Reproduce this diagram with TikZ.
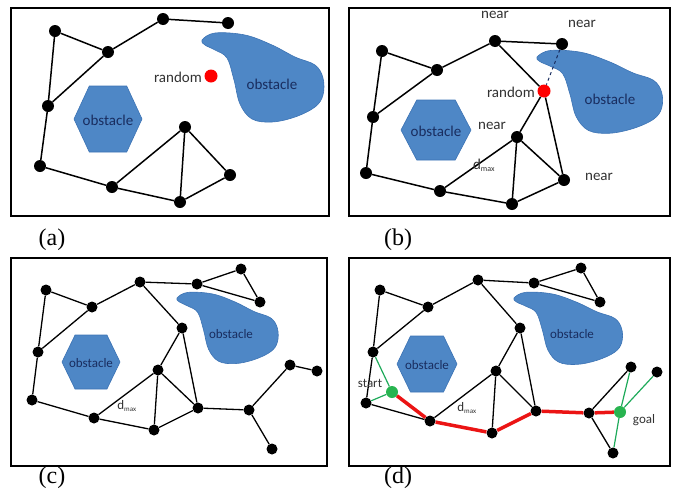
\documentclass[tikz,border=0pt]{standalone}
\usepackage{fontspec}
\setmainfont{Carlito}
\newfontfamily\capfont{Liberation Serif}
\definecolor{obstblue}{RGB}{78,135,198}
\definecolor{obstedge}{RGB}{60,115,180}
\definecolor{obsttxt}{RGB}{25,45,95}
\definecolor{lbltxt}{RGB}{50,50,50}
\definecolor{pathred}{RGB}{235,20,20}
\definecolor{gnode}{RGB}{40,180,80}
\definecolor{gline}{RGB}{30,170,90}
\begin{document}
\begin{tikzpicture}[x=1pt,y=-1pt,
  frame/.style={draw=black,line width=1.6pt},
  dotA/.style={circle,fill=black,inner sep=0pt,minimum size=12pt},
  dotC/.style={circle,fill=black,inner sep=0pt,minimum size=11pt},
  rnd/.style={circle,fill=red,inner sep=0pt,minimum size=13pt},
  gdot/.style={circle,fill=gnode,inner sep=0pt,minimum size=12pt},
  edge/.style={line width=1.5pt},
  edgeC/.style={line width=1.3pt},
  redp/.style={line width=3.5pt,draw=pathred},
  grn/.style={line width=1.2pt,draw=gline},
  lbl/.style={font=\fontsize{15}{15}\selectfont,text=lbltxt,inner sep=0pt},
  lblC/.style={font=\fontsize{13}{13}\selectfont,text=lbltxt,inner sep=0pt},
  otxt/.style={font=\fontsize{15}{15}\selectfont,text=obsttxt,inner sep=0pt},
  otxtC/.style={font=\fontsize{13}{13}\selectfont,text=obsttxt,inner sep=0pt},
  capt/.style={font=\capfont\fontsize{24}{24}\selectfont,inner sep=0pt},
  blob/.pic={\fill[obstblue,draw=obstedge,line width=0.6pt] plot[smooth cycle,tension=0.6] coordinates{
     (0,0) (13,-7) (43,-5) (70,5) (93,17) (113,25) (121,38) (121,55) (113,67)
     (93,77) (70,82) (50,79) (38,64) (32,40) (25,18) (13,10) (3,5)};},
  hexa/.pic={\fill[obstblue,draw=obstedge,line width=0.6pt] (-1,0) -- (-0.55,-1) -- (0.55,-1) -- (1,0) -- (0.55,1) -- (-0.55,1) -- cycle;}
]
\useasboundingbox (0,0) rectangle (677,493);

% ================= (a)
\draw[frame] (11,8) rectangle (329,216);
\pic[xscale=1,yscale=1] at (202,40) {blob};
\pic[xscale=34,yscale=33] at (108,119) {hexa};
\node[otxt] (oa1) at (108,120) {obstacle};
\node[otxt] (oa2) at (272,84) {obstacle};
\node[dotA] (a1) at (55,31) {};
\node[dotA] (a2) at (163,19) {};
\node[dotA] (a3) at (228,23) {};
\node[dotA] (a4) at (108,52) {};
\node[dotA] (a5) at (48,106) {};
\node[dotA] (a6) at (40,166) {};
\node[dotA] (a7) at (112,187) {};
\node[dotA] (a8) at (180,202) {};
\node[dotA] (a9) at (185,127) {};
\node[dotA] (a10) at (230,175) {};
\node[rnd] (ra) at (211,76) {};
\node[lbl,anchor=east] (rla) at (202,77) {random};
\draw[edge] (a1) -- (a4) -- (a2) -- (a3);
\draw[edge] (a1) -- (a5) -- (a6) -- (a7) -- (a8);
\draw[edge] (a4) -- (a5);
\draw[edge] (a7) -- (a9) -- (a8);
\draw[edge] (a9) -- (a10) -- (a8);
\node[capt] (capa) at (52,240) {(a)};

% ================= (b)
\draw[frame] (349,8) rectangle (670,216);
\pic[xscale=1.03,yscale=0.93] at (537,57) {blob};
\pic[xscale=35,yscale=30] at (436,130) {hexa};
\node[otxt] (ob1) at (436,131) {obstacle};
\node[otxt] (ob2) at (610,99) {obstacle};
\node[dotA] (b1) at (382,51) {};
\node[dotA] (b2) at (495,41) {};
\node[dotA] (b3) at (562,44) {};
\node[dotA] (b4) at (437,70) {};
\node[dotA] (b5) at (373,117) {};
\node[dotA] (b6) at (366,173) {};
\node[dotA] (b7) at (440,191) {};
\node[dotA] (b8) at (512,204) {};
\node[dotA] (b9) at (517,137) {};
\node[dotA] (b10) at (564,180) {};
\node[rnd] (rb) at (544,91) {};
\draw[edge] (b1) -- (b4) -- (b2) -- (b3);
\draw[edge] (b1) -- (b5) -- (b6) -- (b7) -- (b8);
\draw[edge] (b4) -- (b5);
\draw[edge] (b7) -- (b9) -- (b8);
\draw[edge] (b9) -- (b10) -- (b8);
\draw[edge] (b2) -- (rb);
\draw[edge] (b9) -- (rb);
\draw[edge] (b10) -- (rb);
\draw[line width=1pt,dashed,draw=obsttxt] (b3) -- (rb);
\node[lbl,anchor=east] (rlb) at (535,92) {random};
\node[lbl] (nb1) at (495,15) {near};
\node[lbl] (nb2) at (582,24) {near};
\node[lbl] (nb3) at (492,126) {near};
\node[lbl] (nb4) at (599,177) {near};
\node[lbl] (db) at (484,165) {d\textsubscript{\fontsize{8}{8}\selectfont max}};
\node[capt] (capb) at (398,240) {(b)};

% ================= (c)
\draw[frame] (11,258) rectangle (327,466);
\pic[xscale=0.83,yscale=0.8] at (177,298) {blob};
\pic[xscale=29,yscale=27] at (91,362) {hexa};
\node[otxtC] (oc1) at (91,363) {obstacle};
\node[otxtC] (oc2) at (231,334) {obstacle};
\node[dotC] (c1) at (46,290) {};
\node[dotC] (c2) at (140,282) {};
\node[dotC] (c3) at (197,284) {};
\node[dotC] (c4) at (241,269) {};
\node[dotC] (c5) at (260,302) {};
\node[dotC] (c6) at (92,307) {};
\node[dotC] (c7) at (182,328) {};
\node[dotC] (c8) at (38,352) {};
\node[dotC] (c9) at (158,370) {};
\node[dotC] (c10) at (32,400) {};
\node[dotC] (c11) at (94,418) {};
\node[dotC] (c12) at (154,430) {};
\node[dotC] (c13) at (198,408) {};
\node[dotC] (c14) at (249,410) {};
\node[dotC] (c15) at (290,365) {};
\node[dotC] (c16) at (317,371) {};
\node[dotC] (c17) at (272,449) {};
\draw[edgeC] (c1) -- (c6) -- (c2) -- (c3) -- (c4) -- (c5) -- (c3);
\draw[edgeC] (c2) -- (c7) -- (c9) -- (c12) -- (c13) -- (c9) -- (c11);
\draw[edgeC] (c7) -- (c13) -- (c14) -- (c15) -- (c16);
\draw[edgeC] (c14) -- (c17);
\draw[edgeC] (c1) -- (c8) -- (c10) -- (c11) -- (c12);
\draw[edgeC] (c6) -- (c8);
\node[lblC] (dc) at (127,406) {d\textsubscript{\fontsize{7}{7}\selectfont max}};
\node[capt] (capc) at (52,478) {(c)};

% ================= (d)
\draw[frame] (349,258) rectangle (670,466);
\pic[xscale=0.89,yscale=0.81] at (514,298) {blob};
\pic[xscale=30,yscale=28] at (427,364) {hexa};
\node[otxtC] (od1) at (427,365) {obstacle};
\node[otxtC] (od2) at (572,334) {obstacle};
\node[dotC] (d1) at (380,290) {};
\node[dotC] (d2) at (478,280) {};
\node[dotC] (d3) at (534,283) {};
\node[dotC] (d4) at (581,268) {};
\node[dotC] (d5) at (600,302) {};
\node[dotC] (d6) at (428,307) {};
\node[dotC] (d7) at (520,328) {};
\node[dotC] (d8) at (373,352) {};
\node[dotC] (d9) at (496,371) {};
\node[dotC] (d10) at (366,403) {};
\node[dotC] (d11) at (430,421) {};
\node[dotC] (d12) at (492,433) {};
\node[dotC] (d13) at (536,411) {};
\node[dotC] (d14) at (589,413) {};
\node[dotC] (d15) at (631,367) {};
\node[dotC] (d16) at (657,372) {};
\node[dotC] (d17) at (613,453) {};
\node[gdot] (st) at (392,392) {};
\node[gdot] (gl) at (620,412) {};
\draw[edgeC] (d1) -- (d6) -- (d2) -- (d3) -- (d4) -- (d5) -- (d3);
\draw[edgeC] (d2) -- (d7) -- (d9) -- (d12);
\draw[edgeC] (d9) -- (d13);
\draw[edgeC] (d9) -- (d11);
\draw[edgeC] (d7) -- (d13);
\draw[edgeC] (d14) -- (d15);
\draw[edgeC] (d14) -- (d17);
\draw[edgeC] (d1) -- (d8) -- (d10) -- (d11);
\draw[edgeC] (d6) -- (d8);
\draw[grn] (d8) -- (st);
\draw[grn] (d10) -- (st);
\draw[grn] (gl) -- (d15);
\draw[grn] (gl) -- (d16);
\draw[grn] (gl) -- (d17);
\draw[redp] (st) -- (d11) -- (d12) -- (d13) -- (d14) -- (gl);
\node[lblC] (sl) at (370,383) {start};
\node[lblC] (gll) at (644,420) {goal};
\node[lblC] (dd) at (467,408) {d\textsubscript{\fontsize{7}{7}\selectfont max}};
\node[capt] (capd) at (398,478) {(d)};
\end{tikzpicture}
\end{document}
